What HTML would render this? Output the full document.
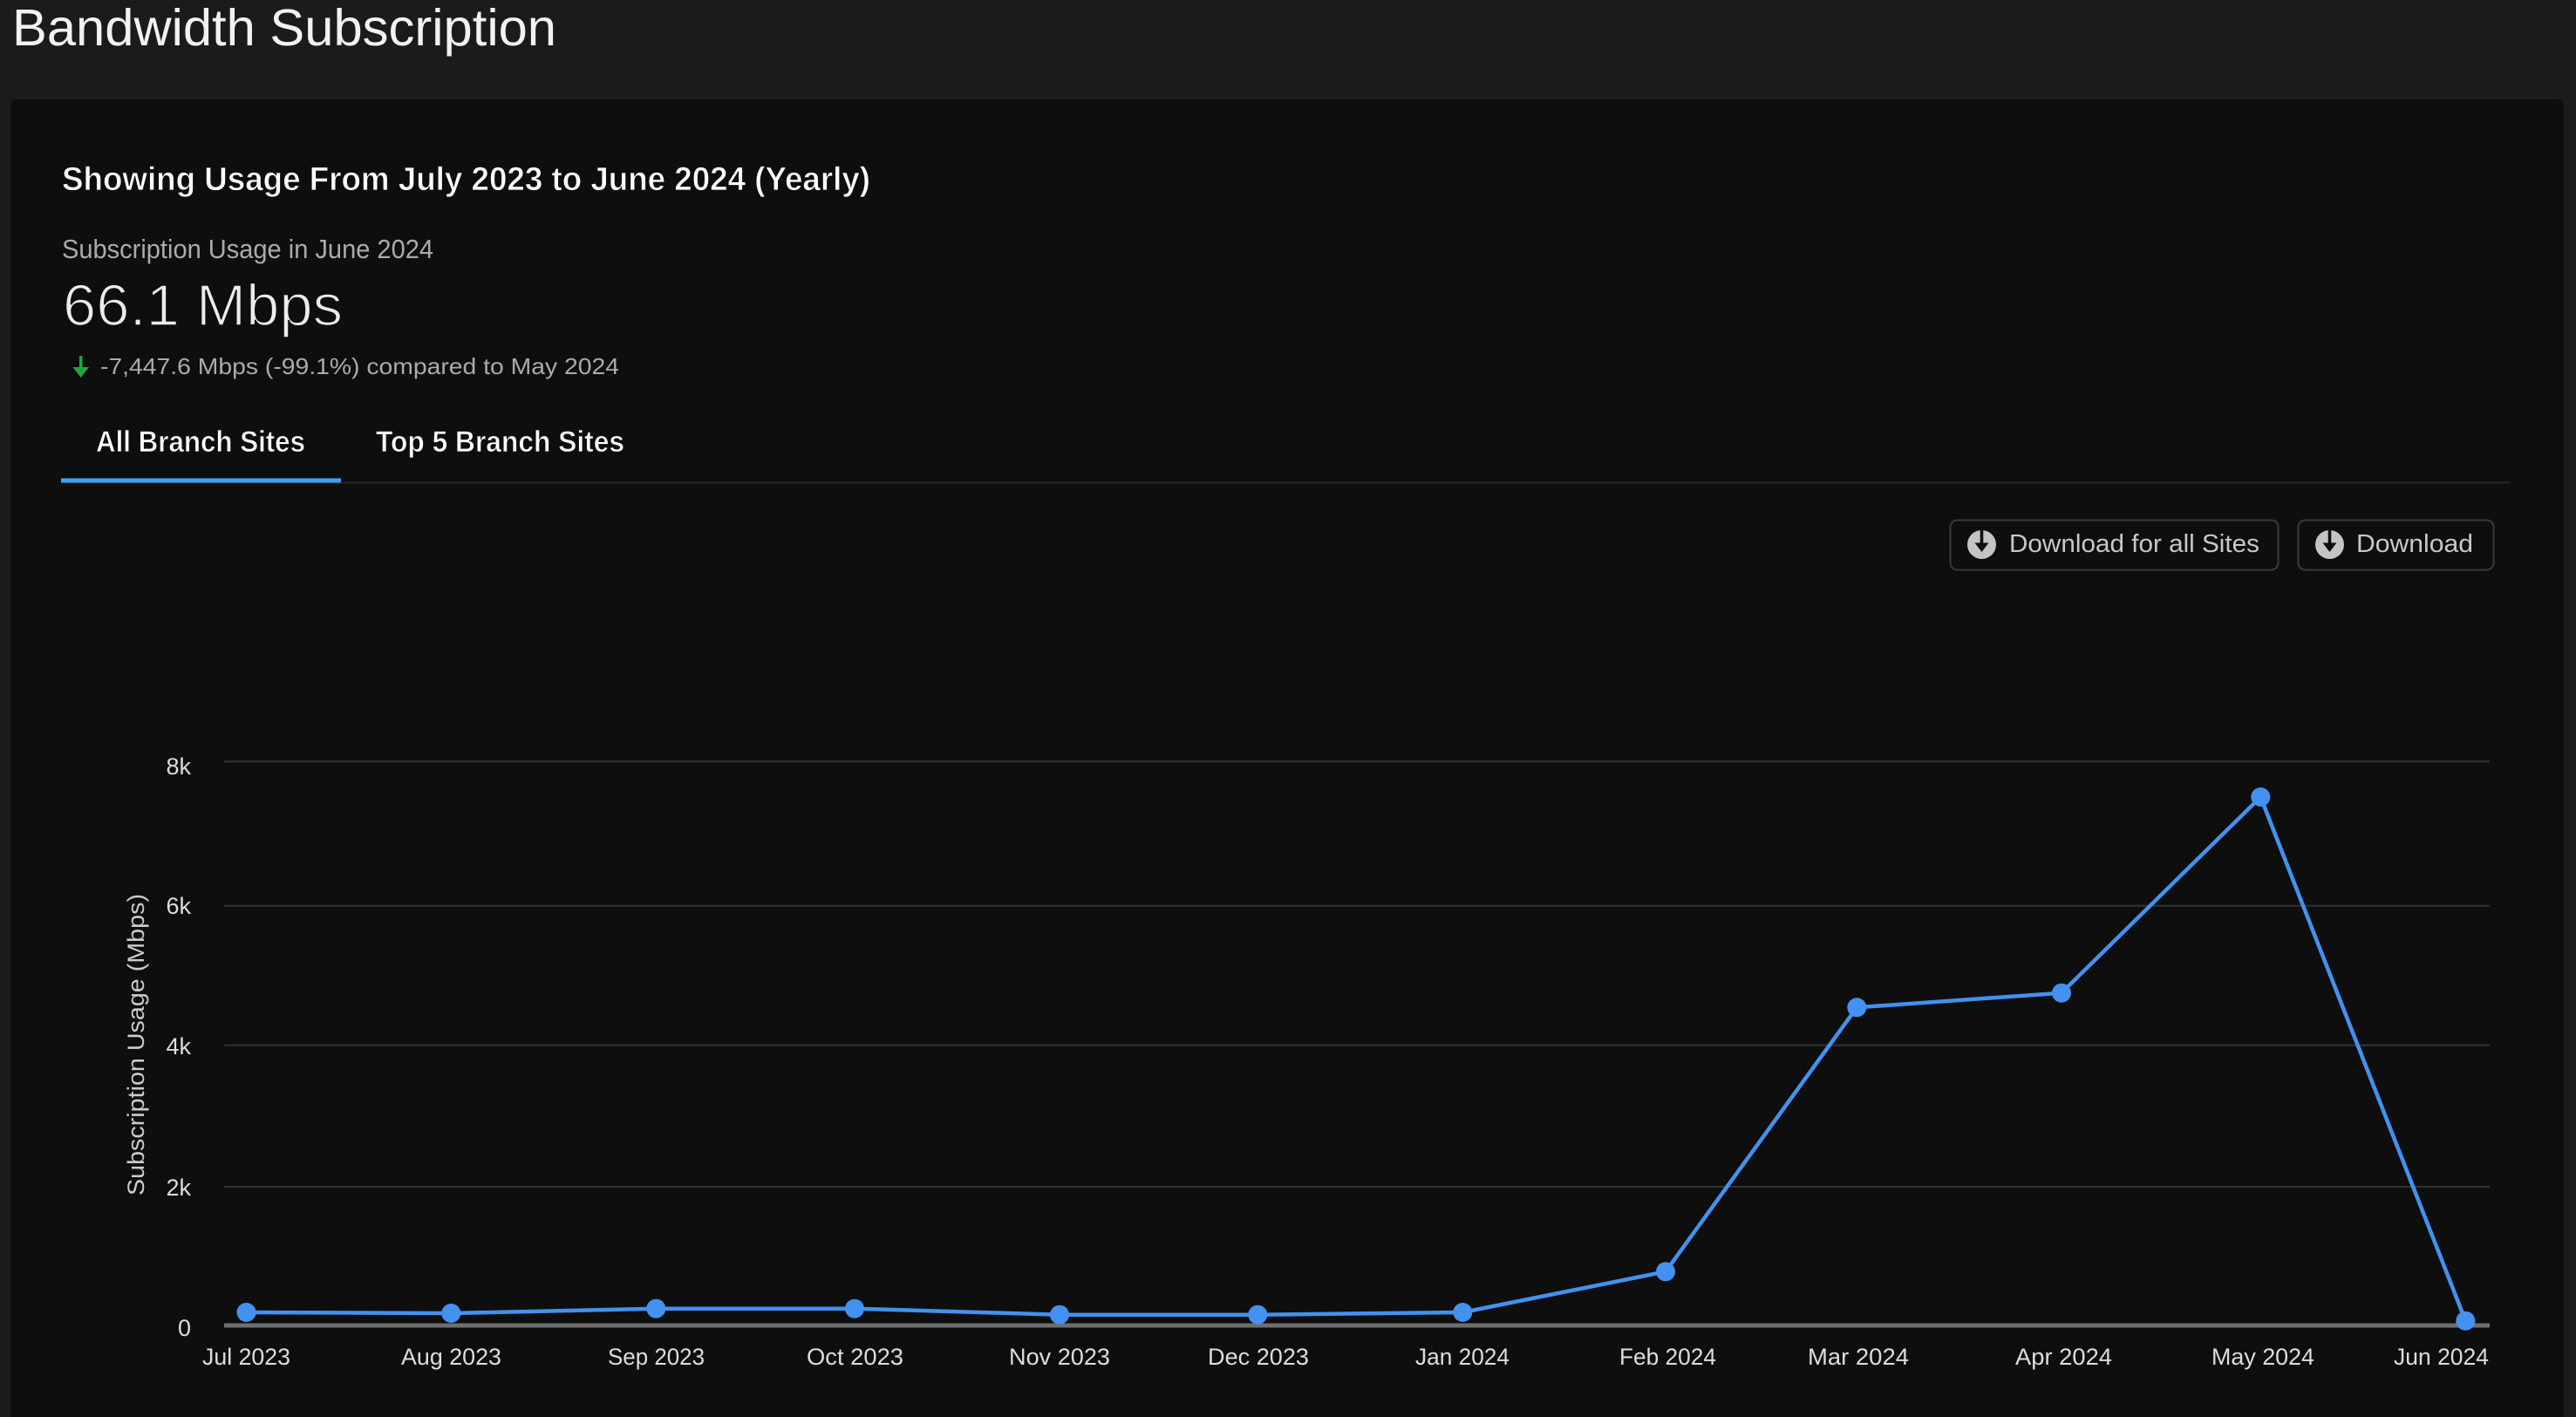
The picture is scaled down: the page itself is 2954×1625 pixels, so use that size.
<!DOCTYPE html>
<html>
<head>
<meta charset="utf-8">
<style>
  html, body { margin: 0; padding: 0; background: #1b1b1b; }
  body { width: 2954px; height: 1625px; overflow: hidden; }
  svg { display: block; }
  text { font-family: "Liberation Sans", "DejaVu Sans", sans-serif; }
</style>
</head>
<body>
<svg width="2954" height="1625" viewBox="0 0 2954 1625" xmlns="http://www.w3.org/2000/svg">
  <!-- page background -->
  <rect x="0" y="0" width="2954" height="1625" fill="#1b1b1b"/>
  <!-- card -->
  <rect x="12" y="114" width="2928" height="1560" rx="7" ry="7" fill="#0e0e0e"/>

  <!-- page title -->
  <text x="14" y="52" font-size="59" fill="#f2f2f2" textLength="624" lengthAdjust="spacingAndGlyphs">Bandwidth Subscription</text>

  <!-- card header -->
  <text x="71" y="218" font-size="38" font-weight="bold" fill="#ffffff" stroke="#0e0e0e" stroke-width="0.8" textLength="927" lengthAdjust="spacingAndGlyphs">Showing Usage From July 2023 to June 2024 (Yearly)</text>
  <text x="71" y="296" font-size="31" fill="#ababab" textLength="426" lengthAdjust="spacingAndGlyphs">Subscription Usage in June 2024</text>
  <text x="72" y="373" font-size="67" fill="#ececec" stroke="#0e0e0e" stroke-width="1.6" textLength="321" lengthAdjust="spacingAndGlyphs">66.1 Mbps</text>

  <!-- green down arrow -->
  <rect x="91" y="408" width="3.5" height="17" fill="#23a33f"/>
  <polygon points="83.5,421 102,421 92.75,433" fill="#23a33f"/>
  <text x="115" y="429" font-size="26" fill="#ababab" textLength="595" lengthAdjust="spacingAndGlyphs">-7,447.6 Mbps (-99.1%) compared to May 2024</text>

  <!-- tabs -->
  <text x="110" y="518" font-size="34" font-weight="bold" fill="#ffffff" stroke="#0e0e0e" stroke-width="0.7" textLength="240" lengthAdjust="spacingAndGlyphs">All Branch Sites</text>
  <text x="431" y="518" font-size="34" font-weight="bold" fill="#ffffff" stroke="#0e0e0e" stroke-width="0.7" textLength="285" lengthAdjust="spacingAndGlyphs">Top 5 Branch Sites</text>
  <rect x="70" y="552.5" width="2809" height="2" fill="#272727"/>
  <rect x="70" y="548.5" width="321" height="5" fill="#3ea0f5"/>

  <!-- buttons -->
  <rect x="2236.5" y="596.5" width="376" height="57" rx="8" ry="8" fill="#0e0e0e" stroke="#3a3a3a" stroke-width="2"/>
  <circle cx="2272.5" cy="624.5" r="16.5" fill="#c4c4c4"/>
  <rect x="2270.7" y="607" width="3.6" height="17" fill="#0e0e0e"/>
  <polygon points="2264.5,622.5 2280.5,622.5 2272.5,633" fill="#0e0e0e"/>
  <text x="2304" y="633" font-size="29" fill="#c8c8c8" textLength="287" lengthAdjust="spacingAndGlyphs">Download for all Sites</text>

  <rect x="2635.5" y="596.5" width="224" height="57" rx="8" ry="8" fill="#0e0e0e" stroke="#3a3a3a" stroke-width="2"/>
  <circle cx="2671.5" cy="624.5" r="16.5" fill="#c4c4c4"/>
  <rect x="2669.7" y="607" width="3.6" height="17" fill="#0e0e0e"/>
  <polygon points="2663.5,622.5 2679.5,622.5 2671.5,633" fill="#0e0e0e"/>
  <text x="2702" y="633" font-size="29" fill="#c8c8c8" textLength="134" lengthAdjust="spacingAndGlyphs">Download</text>

  <!-- gridlines -->
  <g fill="#333333">
    <rect x="257" y="872.3" width="2598" height="2"/>
    <rect x="257" y="1037.7" width="2598" height="2"/>
    <rect x="257" y="1197.7" width="2598" height="2"/>
    <rect x="257" y="1360" width="2598" height="2"/>
  </g>
  <!-- baseline -->
  <rect x="257" y="1517.5" width="2598" height="5" fill="#6e6e6e"/>

  <!-- y tick labels -->
  <g font-size="27" fill="#dddddd" text-anchor="end">
    <text x="219" y="888">8k</text>
    <text x="219" y="1048">6k</text>
    <text x="219" y="1209">4k</text>
    <text x="219" y="1371">2k</text>
    <text x="219" y="1532">0</text>
  </g>

  <!-- y axis title -->
  <text transform="translate(165,1198) rotate(-90)" font-size="27" fill="#cccccc" text-anchor="middle" textLength="346" lengthAdjust="spacingAndGlyphs">Subscription Usage (Mbps)</text>

  <!-- x tick labels -->
  <g font-size="27" fill="#dddddd">
    <text x="232" y="1565" textLength="101" lengthAdjust="spacingAndGlyphs">Jul 2023</text>
    <text x="460" y="1565" textLength="115" lengthAdjust="spacingAndGlyphs">Aug 2023</text>
    <text x="697" y="1565" textLength="111" lengthAdjust="spacingAndGlyphs">Sep 2023</text>
    <text x="925" y="1565" textLength="111" lengthAdjust="spacingAndGlyphs">Oct 2023</text>
    <text x="1157" y="1565" textLength="116" lengthAdjust="spacingAndGlyphs">Nov 2023</text>
    <text x="1385" y="1565" textLength="116" lengthAdjust="spacingAndGlyphs">Dec 2023</text>
    <text x="1623" y="1565" textLength="108" lengthAdjust="spacingAndGlyphs">Jan 2024</text>
    <text x="1857" y="1565" textLength="111" lengthAdjust="spacingAndGlyphs">Feb 2024</text>
    <text x="2073" y="1565" textLength="116" lengthAdjust="spacingAndGlyphs">Mar 2024</text>
    <text x="2311" y="1565" textLength="111" lengthAdjust="spacingAndGlyphs">Apr 2024</text>
    <text x="2536" y="1565" textLength="118" lengthAdjust="spacingAndGlyphs">May 2024</text>
    <text x="2745" y="1565" textLength="109" lengthAdjust="spacingAndGlyphs">Jun 2024</text>
  </g>

  <!-- series line -->
  <polyline fill="none" stroke="#4391f0" stroke-width="4.5" stroke-linejoin="round"
    points="282.5,1505 517.3,1506 752.3,1500.7 980,1500.7 1215,1507.7 1442.3,1507.7 1677.3,1505 1910,1458.3 2129.3,1155.3 2364,1138.7 2592.3,914 2827.3,1514.7"/>
  <!-- points -->
  <g fill="#4391f0">
    <circle cx="282.5" cy="1505" r="11"/>
    <circle cx="517.3" cy="1506" r="11"/>
    <circle cx="752.3" cy="1500.7" r="11"/>
    <circle cx="980" cy="1500.7" r="11"/>
    <circle cx="1215" cy="1507.7" r="11"/>
    <circle cx="1442.3" cy="1507.7" r="11"/>
    <circle cx="1677.3" cy="1505" r="11"/>
    <circle cx="1910" cy="1458.3" r="11"/>
    <circle cx="2129.3" cy="1155.3" r="11"/>
    <circle cx="2364" cy="1138.7" r="11"/>
    <circle cx="2592.3" cy="914" r="11"/>
    <circle cx="2827.3" cy="1514.7" r="11"/>
  </g>
</svg>
</body>
</html>
